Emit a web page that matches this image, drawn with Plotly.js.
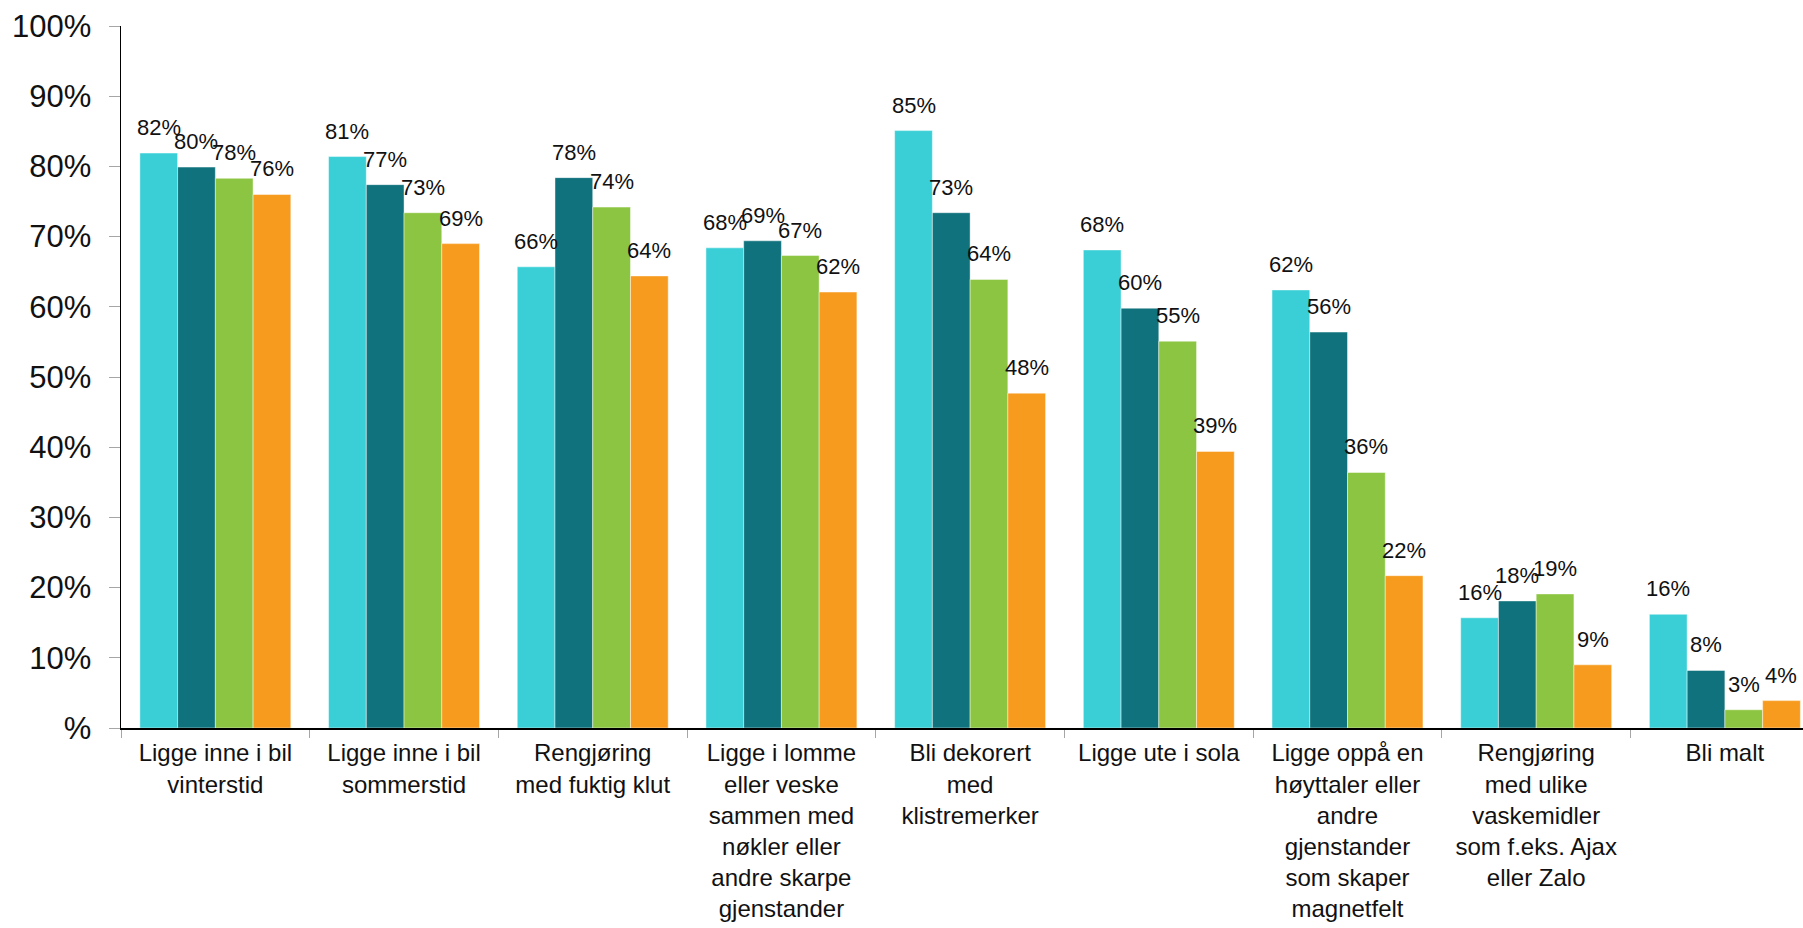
<!DOCTYPE html>
<html>
<head>
<meta charset="utf-8">
<script src="https://cdn.plot.ly/plotly-3.0.1.min.js"></script>
<style>html,body{margin:0;padding:0;background:#fff;overflow:hidden}#chart{width:1803px;height:928px}</style>
</head>
<body>
<div id="chart"></div>
<script>
const categories = [
  "Ligge inne i bil<br>vinterstid",
  "Ligge inne i bil<br>sommerstid",
  "Rengjøring<br>med fuktig klut",
  "Ligge i lomme<br>eller veske<br>sammen med<br>nøkler eller<br>andre skarpe<br>gjenstander",
  "Bli dekorert<br>med<br>klistremerker",
  "Ligge ute i sola",
  "Ligge oppå en<br>høyttaler eller<br>andre<br>gjenstander<br>som skaper<br>magnetfelt",
  "Rengjøring<br>med ulike<br>vaskemidler<br>som f.eks. Ajax<br>eller Zalo",
  "Bli malt"
];
const series1 = [81.9, 81.4, 65.7, 68.4, 85.1, 68.1, 62.4, 15.7, 16.2];
const series2 = [79.9, 77.4, 78.4, 69.4, 73.4, 59.8, 56.4, 18.1, 8.2];
const series3 = [78.3, 73.4, 74.2, 67.3, 63.9, 55.1, 36.4, 19.1, 2.6];
const series4 = [76.0, 69.0, 64.4, 62.1, 47.7, 39.4, 21.7, 9.0, 3.9];
const seriesNames = ["Serie 1", "Serie 2", "Serie 3", "Serie 4"];
const yTickVals = [0, 10, 20, 30, 40, 50, 60, 70, 80, 90, 100];
const yTickText = ["%", "10%", "20%", "30%", "40%", "50%", "60%", "70%", "80%", "90%", "100%"];

const colors = ["#3ACFD6", "#0F727C", "#8CC541", "#F79B1F"];
const allSeries = [series1, series2, series3, series4];
const bargap = 0.2;
const nSeries = allSeries.length;
const barW = (1 - bargap) / nSeries;

const traces = allSeries.map((vals, i) => ({
  type: "bar",
  name: seriesNames[i],
  x: categories,
  y: vals,
  marker: {color: colors[i], line: {width: 1, color: "rgba(255,255,255,0.45)"}},
  hoverinfo: "x+y"
}));

const annotations = [];
allSeries.forEach((vals, i) => {
  const off = -(1 - bargap) / 2 + barW * (i + 0.5);
  vals.forEach((v, j) => {
    annotations.push({
      x: j + off, y: v, xref: "x", yref: "y",
      text: Math.round(v) + "%",
      showarrow: false, xanchor: "center", yanchor: "bottom",
      yshift: 11,
      font: {family: "Liberation Sans, Arial, sans-serif", size: 22, color: "#111"}
    });
  });
});

const layout = {
  width: 1803, height: 928,
  margin: {l: 121, r: 0, t: 26, b: 200, pad: 0},
  paper_bgcolor: "#fff", plot_bgcolor: "#fff",
  barmode: "group", bargap: bargap, bargroupgap: 0,
  showlegend: false,
  font: {family: "Liberation Sans, Arial, sans-serif", color: "#111"},
  xaxis: {
    type: "category",
    range: [-0.5, 8.414],
    tickson: "boundaries",
    ticks: "outside", ticklen: 8, tickcolor: "#A6A6A6", tickwidth: 1,
    showline: true, linecolor: "#000", linewidth: 1.5,
    showgrid: false, zeroline: false,
    tickangle: 0,
    tickfont: {family: "Liberation Sans, Arial, sans-serif", size: 24, color: "#111"},
    ticklabelstandoff: 3
  },
  yaxis: {
    range: [0, 100],
    tickvals: yTickVals, ticktext: yTickText,
    ticks: "outside", ticklen: 11, tickcolor: "#A6A6A6", tickwidth: 1,
    showline: true, linecolor: "#000", linewidth: 1.5,
    showgrid: false, zeroline: false,
    tickfont: {family: "Liberation Sans, Arial, sans-serif", size: 31, color: "#111"},
    ticklabelstandoff: 11
  },
  annotations: annotations
};

Plotly.newPlot("chart", traces, layout, {displayModeBar: false, staticPlot: true});
</script>
</body>
</html>
